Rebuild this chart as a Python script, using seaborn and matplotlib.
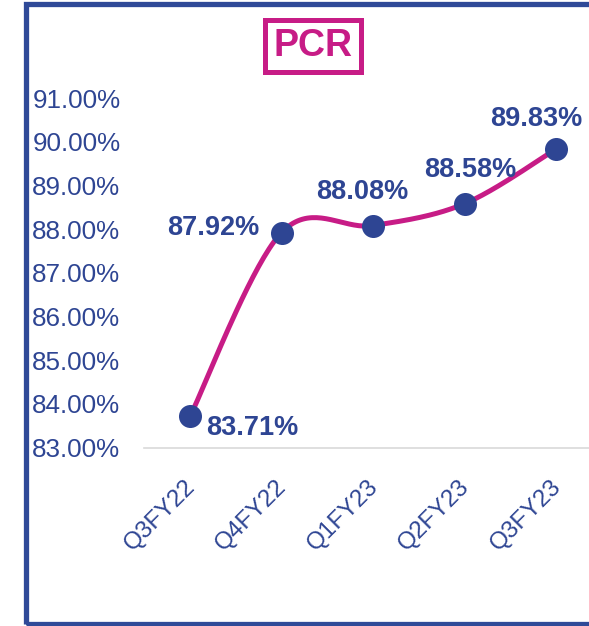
import matplotlib
matplotlib.use("Agg")
import matplotlib.pyplot as plt
import matplotlib.patches as patches
from matplotlib.transforms import ScaledTranslation
import seaborn as sns
import numpy as np
import pandas as pd

# donnees du graphique
quarters = ["Q3FY22", "Q4FY22", "Q1FY23", "Q2FY23", "Q3FY23"]
pcr = [83.71, 87.92, 88.08, 88.58, 89.83]
y_ticks = [83, 84, 85, 86, 87, 88, 89, 90, 91]

blue = "#2E4593"
magenta = "#C71C86"

sns.set_theme(style="white")
plt.rcParams["font.family"] = ["Liberation Sans", "DejaVu Sans"]

# courbe lissee facon Excel (Catmull-Rom -> Bezier)
xs = np.arange(len(pcr), dtype=float)
ys = np.array(pcr)
px = np.concatenate([[xs[0]], xs, [xs[-1]]])
py = np.concatenate([[ys[0]], ys, [ys[-1]]])
cx, cy = [], []
t = np.linspace(0, 1, 40)
for i in range(len(xs) - 1):
    p0 = np.array([px[i + 1], py[i + 1]])
    p3 = np.array([px[i + 2], py[i + 2]])
    b1 = p0 + (p3 - np.array([px[i], py[i]])) / 6
    b2 = p3 - (np.array([px[i + 3], py[i + 3]]) - p0) / 6
    pts = ((1 - t) ** 3)[:, None] * p0 + (3 * (1 - t) ** 2 * t)[:, None] * b1 \
        + (3 * (1 - t) * t ** 2)[:, None] * b2 + (t ** 3)[:, None] * p3
    cx.extend(pts[:, 0])
    cy.extend(pts[:, 1])
smooth = pd.DataFrame({"x": cx, "y": cy})
df = pd.DataFrame({"x": xs, "pcr": pcr})

fig = plt.figure(figsize=(5.89, 6.26), dpi=100)
ax = fig.add_axes([144 / 589, 1 - 447.5 / 626, 1 - 144 / 589, (447.5 - 98) / 626])

sns.lineplot(data=smooth, x="x", y="y", ax=ax, color=magenta, lw=3.6,
             sort=False, estimator=None)
sns.scatterplot(data=df, x="x", y="pcr", ax=ax, color=blue, s=275,
                edgecolor=blue, linewidth=0, zorder=5)

ax.set_xlim((144 - 190) / 91.5, (589 - 190) / 91.5)
ax.set_ylim(83, 91)
ax.set_yticks(y_ticks)
ax.set_yticklabels([f"{v:.2f}%" for v in y_ticks])
ax.set_xticks(xs)
ax.set_xticklabels(quarters, rotation=45, ha="right", va="top",
                   rotation_mode="anchor")
ax.set_xlabel("")
ax.set_ylabel("")
ax.tick_params(axis="y", length=0, pad=17, labelsize=18.7, labelcolor=blue)
ax.tick_params(axis="x", length=0, pad=20, labelsize=17.5, labelcolor=blue)
for lbl in ax.get_xticklabels():
    lbl.set_transform(lbl.get_transform() + ScaledTranslation(-0.06, 0, fig.dpi_scale_trans))

for s in ["top", "right", "left"]:
    ax.spines[s].set_visible(False)
ax.spines["bottom"].set_color("#D9D9D9")
ax.spines["bottom"].set_linewidth(1.2)

# etiquettes des valeurs
offsets = [(11.5, -8.6, "left"), (-16, 3, "right"), (-8, 24.5, "center"),
           (4.3, 24.5, "center"), (-14, 22, "center")]
for xi, v, (dx, dy, ha) in zip(xs, pcr, offsets):
    ax.annotate(f"{v:.2f}%", (xi, v), xytext=(dx, dy), textcoords="offset points",
                ha=ha, va="center", fontsize=19.5, fontweight="bold", color=blue,
                zorder=6)

# titre encadre
fig.text(313 / 589, 1 - 46 / 626, "PCR", ha="center", va="center",
         fontsize=27, fontweight="bold", color=magenta,
         bbox=dict(boxstyle="square,pad=0.22", facecolor="white",
                   edgecolor=magenta, linewidth=3.6))

# cadre bleu
frame = patches.Rectangle((26 / 589, 2 / 626), 1.2, (624 - 4) / 626,
                          transform=fig.transFigure, fill=False,
                          edgecolor="#2F4A98", linewidth=3.8, clip_on=False)
fig.patches.append(frame)

fig.savefig("out.png", dpi=100)
